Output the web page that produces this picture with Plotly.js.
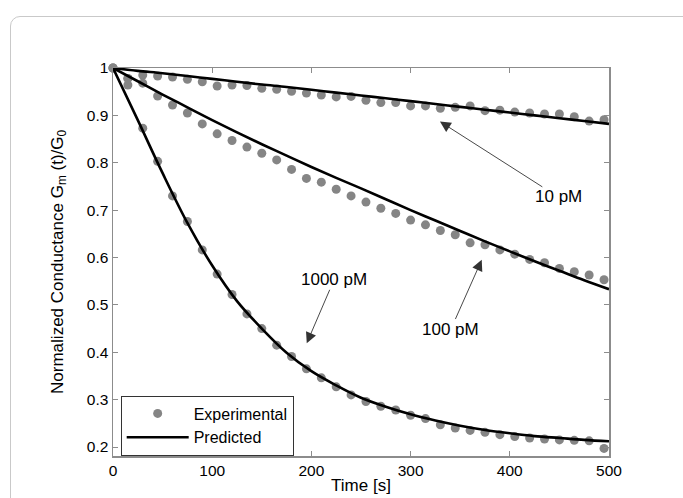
<!DOCTYPE html>
<html>
<head>
<meta charset="utf-8">
<script src="https://cdn.plot.ly/plotly-3.0.1.min.js"></script>
<style>
  html, body { margin: 0; padding: 0; background: #ffffff; }
  #card { position: absolute; left: 10px; top: 16px; width: 720px; height: 540px;
          border: 1.5px solid #c9c9c9; border-radius: 10px; box-sizing: border-box; }
  #chart { position: absolute; left: 0; top: 0; width: 683px; height: 498px; }
</style>
</head>
<body>
<div id="card"></div>
<div id="chart"></div>
<script>
// ---- data ----
const timeExp = [0,15,30,45,60,75,90,105,120,135,150,165,180,195,210,225,240,255,270,285,300,315,330,345,360,375,390,405,420,435,450,465,480,495];
const exp10 = [1.000,0.978,0.985,0.983,0.981,0.976,0.971,0.962,0.964,0.963,0.957,0.955,0.951,0.947,0.943,0.939,0.940,0.932,0.927,0.927,0.920,0.920,0.915,0.917,0.920,0.910,0.911,0.907,0.905,0.903,0.903,0.897,0.888,0.891];
const exp100 = [1.000,0.978,0.968,0.941,0.922,0.905,0.882,0.861,0.847,0.833,0.820,0.806,0.786,0.767,0.759,0.744,0.730,0.717,0.704,0.693,0.679,0.669,0.657,0.648,0.631,0.627,0.616,0.607,0.596,0.589,0.577,0.570,0.563,0.553];
const exp1000 = [1.000,0.964,0.873,0.803,0.730,0.676,0.616,0.565,0.522,0.481,0.450,0.415,0.391,0.365,0.346,0.327,0.310,0.296,0.286,0.278,0.267,0.260,0.247,0.240,0.235,0.231,0.226,0.222,0.219,0.217,0.215,0.214,0.213,0.197];

const timePred = [0,25,50,75,100,125,150,175,200,225,250,275,300,325,350,375,400,425,450,475,500];
const pred10 = [1.000,0.994,0.989,0.983,0.977,0.971,0.965,0.960,0.954,0.948,0.942,0.936,0.930,0.924,0.918,0.912,0.906,0.900,0.894,0.888,0.882];
const pred100 = [1.000,0.972,0.944,0.917,0.890,0.864,0.839,0.815,0.791,0.768,0.746,0.723,0.700,0.678,0.656,0.634,0.613,0.592,0.572,0.552,0.533];
const pred1000 = [1.000,0.890,0.778,0.673,0.583,0.508,0.450,0.399,0.360,0.330,0.304,0.285,0.269,0.256,0.245,0.236,0.229,0.223,0.219,0.215,0.212];

const xTicks = [0,100,200,300,400,500];
const xTickText = ['0','100','200','300','400','500'];
const yTicks = [0.2,0.3,0.4,0.5,0.6,0.7,0.8,0.9,1];
const yTickText = ['0.2','0.3','0.4','0.5','0.6','0.7','0.8','0.9','1'];

const labels = ['10 pM','100 pM','1000 pM'];
const labelPos = [[448.6,0.728],[340.7,0.449],[222.8,0.553]];
const arrowHead = [[329.6,0.887],[371.7,0.595],[195.3,0.419]];

// ---- chart ----
const FONT = 'Arial, "Liberation Sans", sans-serif';
const dotStyle = {color:'#858585', size:9};
const lineStyle = {color:'#000000', width:2.6, shape:'spline'};

const traces = [
  {x:timeExp, y:exp10, mode:'markers', marker:dotStyle, name:'Experimental', showlegend:true, cliponaxis:false},
  {x:timeExp, y:exp100, mode:'markers', marker:dotStyle, name:'Experimental', showlegend:false, cliponaxis:false},
  {x:timeExp, y:exp1000, mode:'markers', marker:dotStyle, name:'Experimental', showlegend:false, cliponaxis:false},
  {x:timePred, y:pred10, mode:'lines', line:lineStyle, name:'Predicted', showlegend:true},
  {x:timePred, y:pred100, mode:'lines', line:lineStyle, name:'Predicted', showlegend:false},
  {x:timePred, y:pred1000, mode:'lines', line:lineStyle, name:'Predicted', showlegend:false}
];

const annotations = [];
for (let i = 0; i < labels.length; i++) {
  annotations.push({x:arrowHead[i][0], y:arrowHead[i][1], ax:labelPos[i][0], ay:labelPos[i][1],
    xref:'x', yref:'y', axref:'x', ayref:'y', text:labels[i], showarrow:true,
    font:{family:FONT, size:17, color:'#000'}, borderpad:0, standoff:0,
    arrowhead:2, arrowsize:2.4, arrowwidth:0.9, arrowcolor:'#333333'});
}
// y-axis title, centred on the plot height
annotations.push({x:-0.109, y:0.5, xref:'paper', yref:'paper', xanchor:'center', yanchor:'middle',
  textangle:-90, showarrow:false,
  text:'Normalized Conductance G<sub>m</sub> (t)/G<sub>0</sub>',
  font:{family:FONT, size:17, color:'#000'}});

const axisCommon = {
  showline:true, mirror:'ticks', linecolor:'#8c8c8c', linewidth:1.5,
  ticks:'inside', ticklen:5, tickcolor:'#8c8c8c', tickwidth:1,
  showgrid:false, zeroline:false,
  tickfont:{family:FONT, size:15.5, color:'#000'}
};

const layout = {
  width:683, height:498,
  margin:{l:113, r:74, t:68, b:42},
  paper_bgcolor:'rgba(0,0,0,0)', plot_bgcolor:'#ffffff',
  font:{family:FONT, size:15, color:'#000'},
  xaxis:Object.assign({}, axisCommon, {
    range:[0,500], tickmode:'array', tickvals:xTicks, ticktext:xTickText,
    title:{text:'Time [s]', font:{family:FONT, size:17, color:'#000'}, standoff:1}
  }),
  yaxis:Object.assign({}, axisCommon, {
    range:[0.181,1.0], tickmode:'array', tickvals:yTicks, ticktext:yTickText
  }),
  showlegend:true,
  legend:{x:0.0155, y:0.0786, xanchor:'left', yanchor:'middle', bgcolor:'#ffffff',
    bordercolor:'#333333', borderwidth:1, font:{family:FONT, size:16, color:'#000'},
    itemwidth:62, tracegroupgap:0},
  annotations:annotations
};

Plotly.newPlot('chart', traces, layout, {displayModeBar:false, staticPlot:true});
</script>
</body>
</html>
